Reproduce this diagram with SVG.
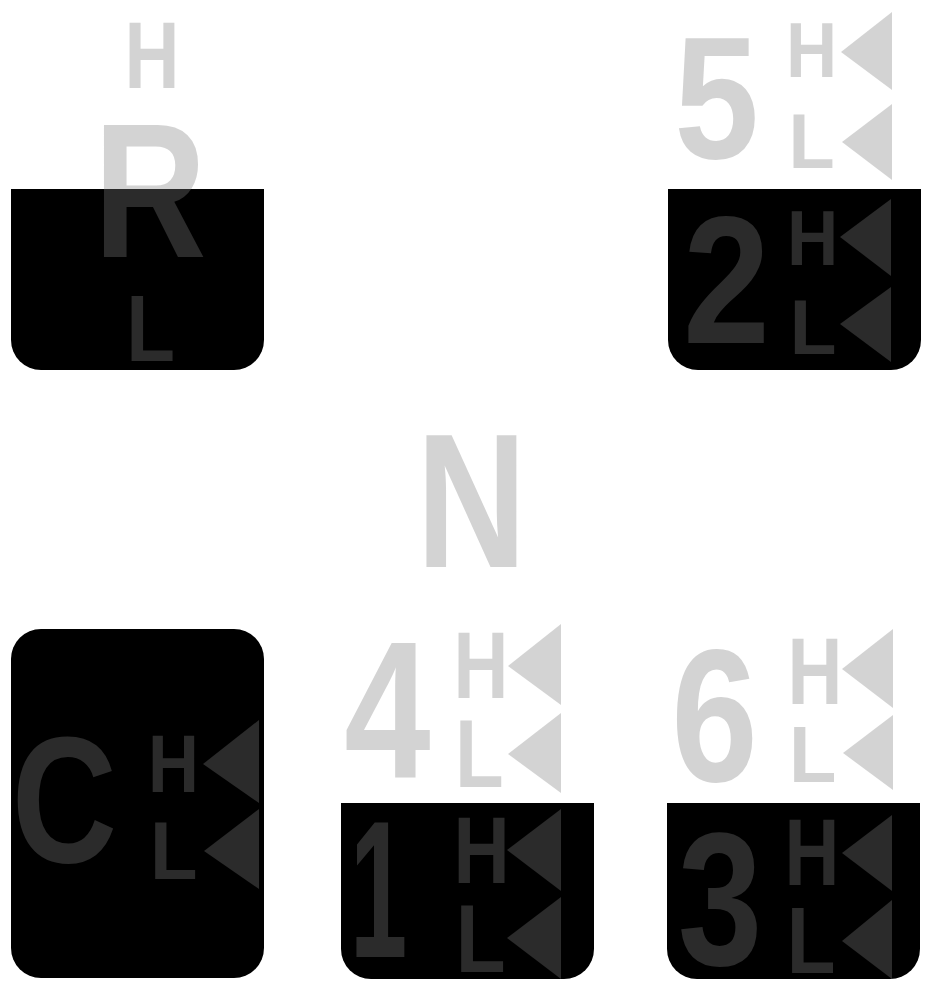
<svg xmlns="http://www.w3.org/2000/svg" width="934" height="993" viewBox="0 0 934 993">
<style>
.box{fill:#000}
.t{fill:#7e7e7e;fill-opacity:0.341;font-family:"Liberation Sans",Arial,sans-serif;font-weight:bold;text-anchor:middle}
</style>
<rect width="934" height="993" fill="#fff"/>
<g id="node-R">
<path class="box" d="M11,189 H264 V340 A30,30 0 0 1 234,370 H41 A30,30 0 0 1 11,340 Z"/>
<text class="t" transform="translate(152,88) scale(0.81,1)" font-size="94">H</text>
<text class="t" transform="translate(150,257) scale(0.82,1)" font-size="191">R</text>
<text class="t" transform="translate(150.7,361) scale(0.84,1)" font-size="95">L</text>
</g>
<g id="node-5-2">
<path class="box" d="M668,189 H921 V340 A30,30 0 0 1 891,370 H698 A30,30 0 0 1 668,340 Z"/>
<text class="t" transform="translate(716.5,158) scale(0.87,1)" font-size="175">5</text>
<text class="t" transform="translate(811.5,77) scale(0.92,1)" font-size="77">H</text>
<text class="t" transform="translate(811.7,168) scale(0.97,1)" font-size="78">L</text>
<polygon class="t" points="841,52 892,12 892,90"/>
<polygon class="t" points="842,142 892,104 892,180"/>
<text class="t" transform="translate(726.5,343) scale(0.86,1)" font-size="182">2</text>
<text class="t" transform="translate(812.5,265) scale(0.91,1)" font-size="78">H</text>
<text class="t" transform="translate(813.2,354) scale(0.98,1)" font-size="78">L</text>
<polygon class="t" points="840,237 891,199 891,276"/>
<polygon class="t" points="840,324 891,287 891,362"/>
</g>
<g id="node-N">
<text class="t" transform="translate(471.5,567) scale(0.8,1)" font-size="191">N</text>
</g>
<g id="node-C">
<rect class="box" x="11" y="629" width="253" height="349" rx="30" ry="30"/>
<text class="t" transform="translate(64.5,862) scale(0.81,1)" font-size="180">C</text>
<text class="t" transform="translate(173.5,792) scale(0.87,1)" font-size="81">H</text>
<text class="t" transform="translate(173.7,879) scale(0.96,1)" font-size="81">L</text>
<polygon class="t" points="203,764 259,720 259,803"/>
<polygon class="t" points="204,851 259,809 259,889"/>
</g>
<g id="node-4-1">
<path class="box" d="M341,803 H594 V949 A30,30 0 0 1 564,979 H371 A30,30 0 0 1 341,949 Z"/>
<text class="t" transform="translate(387.5,777) scale(0.8,1)" font-size="194">4</text>
<text class="t" transform="translate(481,698) scale(0.8,1)" font-size="95">H</text>
<text class="t" transform="translate(479.3,787) scale(0.83,1)" font-size="96">L</text>
<polygon class="t" points="508,666 561,624 561,705"/>
<polygon class="t" points="508,754 561,713 561,793"/>
<text class="t" transform="translate(378.5,957) scale(0.53,1)" font-size="194">1</text>
<text class="t" transform="translate(481.5,883) scale(0.82,1)" font-size="95">H</text>
<text class="t" transform="translate(480.7,972) scale(0.85,1)" font-size="96">L</text>
<polygon class="t" points="507,850 561,809 561,891"/>
<polygon class="t" points="507,938 561,897 561,979"/>
</g>
<g id="node-6-3">
<path class="box" d="M667,803 H920 V949 A30,30 0 0 1 890,979 H697 A30,30 0 0 1 667,949 Z"/>
<text class="t" transform="translate(714.5,781) scale(0.82,1)" font-size="190">6</text>
<text class="t" transform="translate(815,704) scale(0.8,1)" font-size="95">H</text>
<text class="t" transform="translate(812.7,782) scale(0.97,1)" font-size="80">L</text>
<polygon class="t" points="842,669 893,629 893,708"/>
<polygon class="t" points="843,753 893,715 893,790"/>
<text class="t" transform="translate(720,965) scale(0.8,1)" font-size="190">3</text>
<text class="t" transform="translate(812,885) scale(0.8,1)" font-size="95">H</text>
<text class="t" transform="translate(811.2,973) scale(0.84,1)" font-size="95">L</text>
<polygon class="t" points="842,853 892,815 892,891"/>
<polygon class="t" points="842,941 892,900 892,979"/>
</g>
<g id="connectors"></g>
</svg>
